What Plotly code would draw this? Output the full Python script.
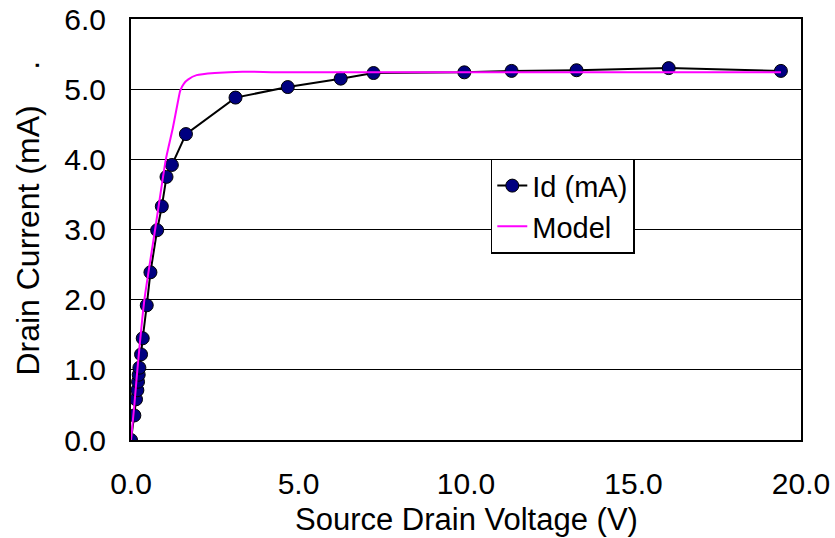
import plotly.graph_objects as go

# Measured data: Id (mA) vs source-drain voltage (V)
vds = [0, 0.1, 0.15, 0.19, 0.21, 0.23, 0.25, 0.3, 0.35, 0.47, 0.58, 0.78, 0.92,
       1.06, 1.22, 1.64, 3.12, 4.68, 6.26, 7.24, 9.95, 11.36, 13.30, 16.05, 19.40]
id_ma = [0, 0.35, 0.58, 0.71, 0.83, 0.93, 1.03, 1.22, 1.45, 1.92, 2.39, 2.99, 3.33,
         3.75, 3.92, 4.36, 4.88, 5.03, 5.15, 5.23, 5.24, 5.26, 5.27, 5.30, 5.26]

# Model curve
v_model = [0, 0.1, 0.19, 0.4, 0.72, 1.04, 1.25, 1.4, 1.47, 1.58, 1.71, 1.96,
           2.5, 3.33, 4.33, 6.0, 10.0, 15.0, 19.4]
i_model = [0, 0.5, 1.0, 2.0, 3.0, 4.0, 4.45, 4.82, 4.98, 5.08, 5.14, 5.2,
           5.23, 5.25, 5.24, 5.24, 5.24, 5.24, 5.24]

x_ticks = [0, 5, 10, 15, 20]
y_ticks = [0, 1, 2, 3, 4, 5, 6]

FONT = "Liberation Sans, Arial, sans-serif"

fig = go.Figure()
fig.add_trace(go.Scatter(
    x=vds, y=id_ma, name="Id (mA)", mode="lines+markers",
    line=dict(color="black", width=2),
    marker=dict(color="#000080", size=13, line=dict(color="black", width=1)),
))
fig.add_trace(go.Scatter(
    x=v_model, y=i_model, name="Model", mode="lines",
    line=dict(color="#FF00FF", width=2, shape="spline", smoothing=0.5),
))

fig.update_layout(
    width=835, height=538,
    margin=dict(l=131, r=34, t=19, b=98, autoexpand=False),
    paper_bgcolor="white", plot_bgcolor="white",
    font=dict(family=FONT, size=30, color="black"),
    showlegend=True,
    legend=dict(
        x=0.537, y=0.668, xanchor="left", yanchor="top",
        bgcolor="white", bordercolor="black", borderwidth=1.5,
        font=dict(family=FONT, size=29, color="black"),
        tracegroupgap=0, itemwidth=30,
    ),
    xaxis=dict(
        range=[0, 20], tickvals=x_ticks, ticktext=[f"{v:.1f}" for v in x_ticks],
        showgrid=False, zeroline=False, showline=True, linecolor="black",
        linewidth=2, mirror=True, ticks="", ticklabelstandoff=16,
        tickfont=dict(family=FONT, size=30), automargin=False,
    ),
    yaxis=dict(
        range=[0, 6], tickvals=y_ticks, ticktext=[f"{v:.1f}" for v in y_ticks],
        showgrid=True, gridcolor="black", gridwidth=1, zeroline=False,
        showline=True, linecolor="black", linewidth=2, mirror=True, ticks="",
        ticklabelstandoff=17, automargin=False,
        tickfont=dict(family=FONT, size=30),
    ),
    annotations=[
        dict(text="Source Drain Voltage (V)", xref="paper", yref="paper",
             x=0.5, y=-0.188, xanchor="center", yanchor="middle",
             showarrow=False, font=dict(family=FONT, size=31)),
        dict(text="Drain Current (mA)\u00a0\u00a0\u00a0\u00a0.", xref="paper", yref="paper",
             x=-0.153, y=0.527, xanchor="center", yanchor="middle", textangle=-90,
             showarrow=False, font=dict(family=FONT, size=32)),
    ],
)

fig.write_html("out.html")
